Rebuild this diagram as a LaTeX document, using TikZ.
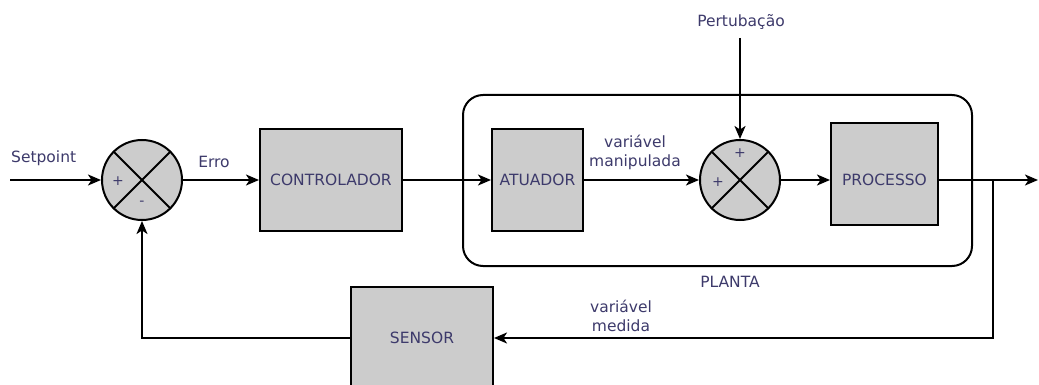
\documentclass[tikz,border=0pt]{standalone}
\usepackage{fontspec}
\setmainfont{DejaVu Sans}
\usetikzlibrary{arrows.meta}
\definecolor{txt}{HTML}{3D3A6B}
\definecolor{boxfill}{HTML}{CCCCCC}
\tikzset{
  wire/.style={line width=2pt, black},
  arr/.style={wire, -{Stealth[length=13pt,width=11pt,inset=3.5pt]}},
  block/.style={draw, line width=2pt, fill=boxfill, rectangle, inner sep=0pt,
    font=\fontsize{15.5}{18}\selectfont, text=txt},
  summer/.style={draw, line width=2pt, fill=boxfill, circle, inner sep=0pt,
    minimum size=80pt},
  lbl/.style={font=\fontsize{15.5}{19}\selectfont, text=txt, inner sep=0pt, align=center},
  sign/.style={font=\fontsize{14}{14}\selectfont, text=txt, inner sep=0pt},
}
\begin{document}
\begin{tikzpicture}[x=1pt,y=-1pt]
  \clip (0,0) rectangle (1039,385);
  \fill[white] (0,0) rectangle (1039,385);

  % plant enclosure
  \node[draw, line width=2pt, rounded corners=20pt, minimum width=509pt,
        minimum height=171pt, inner sep=0pt] (planta) at (717.5,180.5) {};
  \node[lbl] (plantalbl) at (730,282) {PLANTA};

  % summing junctions
  \node[summer] (s1) at (142,180) {};
  \draw[wire] (s1.45) -- (s1.225) (s1.135) -- (s1.315);
  \node[sign] (s1p) at (118,181) {+};
  \node[sign] (s1m) at (142,203) {-};

  \node[summer] (s2) at (740,180) {};
  \draw[wire] (s2.45) -- (s2.225) (s2.135) -- (s2.315);
  \node[sign] (s2t) at (740,153) {+};
  \node[sign] (s2l) at (718,182) {+};

  % blocks
  \node[block, minimum width=142pt, minimum height=102pt] (ctrl) at (331,180) {CONTROLADOR};
  \node[block, minimum width=91pt, minimum height=102pt] (atu) at (537.5,180) {ATUADOR};
  \node[block, minimum width=107pt, minimum height=102pt] (proc) at (884.5,174) {};
  \node[lbl] (proclbl) at (884.5,180) {PROCESSO};
  \node[block, minimum width=142pt, minimum height=102pt] (sens) at (422,338) {SENSOR};

  % labels
  \node[lbl, anchor=west] (sp) at (11,158) {Setpoint};
  \node[lbl] (err) at (214,162) {Erro};
  \node[lbl] (vm) at (635,152) {variável\\manipulada};
  \node[lbl] (pert) at (741,22) {Pertubação};
  \node[lbl] (vmed) at (621,316) {variável\\medida};

  % free ends
  \coordinate (in) at (10,180);
  \coordinate (dtop) at (740,38);
  \coordinate (out) at (1038,180);
  \coordinate (tap) at (993,180);
  \coordinate (fb) at (993,338);

  % forward path
  \draw[arr] (in) -- (s1.west);
  \draw[arr] (s1.east) -- (ctrl.west);
  \draw[arr] (ctrl.east) -- (atu.west);
  \draw[arr] (atu.east) -- (s2.west);
  \draw[arr] (dtop) -- (s2.north);
  \draw[arr] (s2.east) -- (s2.east -| proc.west);
  \draw[arr] (s2.east -| proc.east) -- (out);

  % feedback path
  \draw[arr] (tap) -- (fb) -- (sens.east);
  \draw[arr] (sens.west) -| (s1.south);
\end{tikzpicture}
\end{document}
